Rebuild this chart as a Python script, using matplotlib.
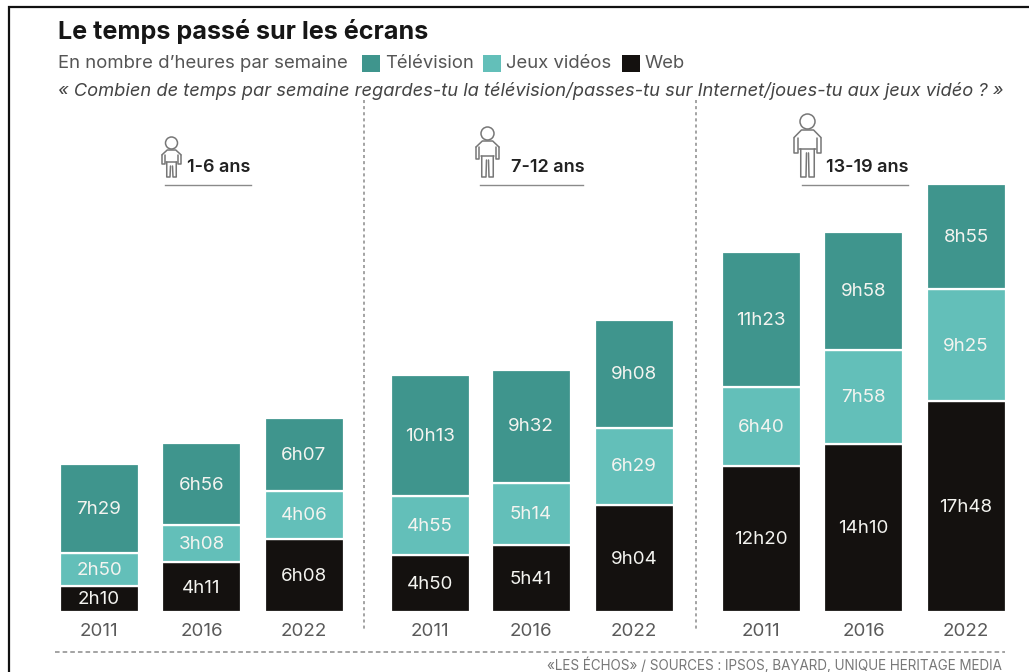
import matplotlib
matplotlib.use('Agg')
import matplotlib.pyplot as plt
import matplotlib.patches as patches

plt.rcParams['font.family'] = ['Inter', 'DejaVu Sans']

# Data as printed on the chart, three periods per age group
years = ['2011', '2016', '2022'] * 3
web = ['2h10', '4h11', '6h08', '4h50', '5h41', '9h04', '12h20', '14h10', '17h48']
games = ['2h50', '3h08', '4h06', '4h55', '5h14', '6h29', '6h40', '7h58', '9h25']
tv = ['7h29', '6h56', '6h07', '10h13', '9h32', '9h08', '11h23', '9h58', '8h55']
ages = ['1-6 ans', '7-12 ans', '13-19 ans']

TV_COLOR = '#3f958d'
GAMES_COLOR = '#63bfb9'
WEB_COLOR = '#14110f'
LINE_GRAY = '#8a8a8a'

W, H = 1029, 672
BASE_Y = 612
PX_PER_HOUR = 11.85
bar_x = [99, 201.5, 304, 430, 531, 634, 761, 863.5, 966]


def to_hours(label):
    h, m = label.split('h')
    return int(h) + int(m) / 60


fig = plt.figure(figsize=(W / 100, H / 100), dpi=100)

# Bars: x is in pixels, y in hours with 0 sitting on the baseline
ax = fig.add_axes([0, 0, 1, 1])
ax.set_xlim(0, W)
ax.set_ylim(-(H - BASE_Y) / PX_PER_HOUR, BASE_Y / PX_PER_HOUR)
ax.axis('off')

bottom = [0] * 9
for labels, color in [(web, WEB_COLOR), (games, GAMES_COLOR), (tv, TV_COLOR)]:
    vals = [to_hours(s) for s in labels]
    ax.bar(bar_x, vals, width=79, bottom=bottom, color=color,
           edgecolor='white', linewidth=1.6)
    for x, b, v, s in zip(bar_x, bottom, vals, labels):
        ax.text(x, b + v / 2 + 0.1, s, color='#f4f4f0', fontsize=13.5,
                ha='center', va='center_baseline')
    bottom = [b + v for b, v in zip(bottom, vals)]

# Everything else goes on an overlay in pixel coordinates
ov = fig.add_axes([0, 0, 1, 1])
ov.set_xlim(0, W)
ov.set_ylim(H, 0)
ov.axis('off')
ov.patch.set_alpha(0)

# Page frame
ov.plot([9, 9, W], [H, 7, 7], color='#111111', lw=1.6, solid_joinstyle='miter')

ov.text(58, 31, 'Le temps passé sur les écrans', fontsize=18.1, fontweight='bold',
        color='#161616', va='center')
ov.text(58, 63, 'En nombre d’heures par semaine', fontsize=13.4, color='#555555', va='center')
for x, label, color in [(362, 'Télévision', TV_COLOR), (483, 'Jeux vidéos', GAMES_COLOR),
                        (622, 'Web', WEB_COLOR)]:
    ov.add_patch(patches.Rectangle((x, 55), 18, 17, color=color, lw=0))
    ov.text(x + 23, 63, label, fontsize=13.3, color='#555555', va='center')
ov.text(58, 91, '« Combien de temps par semaine regardes-tu la télévision/passes-tu sur '
        'Internet/joues-tu aux jeux vidéo ? »', fontsize=13.2, style='italic',
        color='#444444', va='center')

# Separators
for x in [364, 696]:
    ov.plot([x, x], [100, 630], color=LINE_GRAY, lw=1.1, ls=(0, (2, 2)))
ov.plot([55, 1005], [652, 652], color=LINE_GRAY, lw=1.1, ls=(0, (3, 2)))


def person(cx, top, r, w):
    # simple outline figure, feet always end on y=177
    kw = dict(color='#777777', lw=1.1, solid_capstyle='round')
    feet = 177
    s = feet - top
    ov.add_patch(patches.Ellipse((cx, top + r), r * 2, r * 2, fill=False, ec='#777777', lw=1.1))
    y1 = top + 2 * r + 1
    arm = s * 0.3
    ov.plot([cx - w, cx - w * 0.45, cx + w * 0.45, cx + w], [y1 + arm * 0.4, y1, y1, y1 + arm * 0.4], **kw)
    for sign in (-1, 1):
        ov.plot([cx + sign * w, cx + sign * w, cx + sign * w * 0.7, cx + sign * w * 0.7],
                [y1 + arm * 0.4, y1 + arm * 1.2, y1 + arm * 1.2, y1 + arm * 0.4], **kw)
        ov.plot([cx + sign * w * 0.5, cx + sign * w * 0.5, cx + sign * 1.5, cx + sign * 1],
                [y1 + arm, feet, feet, y1 + arm + 4], **kw)
    ov.plot([cx - w * 0.6, cx + w * 0.6], [y1 + arm, y1 + arm], **kw)


for age, tx, x0, x1, (cx, top, r, w) in zip(ages, [187, 511, 826], [165, 480, 802], [251, 583, 908],
                                             [(171.5, 137, 6, 9.5), (487.5, 127, 6.5, 11.5),
                                              (807.5, 114, 7.5, 13.5)]):
    person(cx, top, r, w)
    ov.text(tx, 168, age, fontsize=13, fontweight='semibold', color='#222222', va='center')
    ov.plot([x0, x1], [185, 185], color=LINE_GRAY, lw=1)

for x, y in zip(bar_x, years):
    ov.text(x, 632, y, fontsize=13.5, color='#5a5a5a', ha='center', va='center')

ov.text(1002, 665, '«LES ÉCHOS» / SOURCES : IPSOS, BAYARD, UNIQUE HERITAGE MEDIA',
        fontsize=9.7, color='#777777', ha='right', va='center')

fig.savefig('out.png', dpi=100, facecolor='white')
